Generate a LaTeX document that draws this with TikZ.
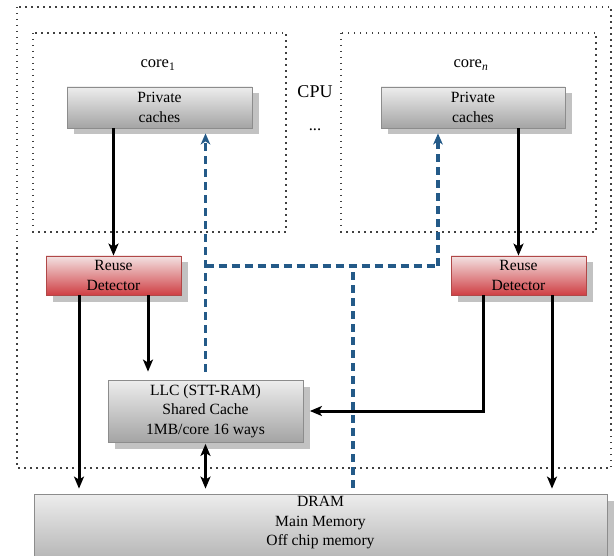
\documentclass[tikz,border=0pt]{standalone}
\usepackage{fontspec}
\setmainfont{Liberation Serif}
\usetikzlibrary{arrows.meta,shadows}
\definecolor{gtop}{HTML}{EDEDED}
\definecolor{gbot}{HTML}{A4A4A4}
\definecolor{gborder}{HTML}{8C8C8C}
\definecolor{rtop}{HTML}{F3E2E2}
\definecolor{rbot}{HTML}{CF3F44}
\definecolor{rborder}{HTML}{B04848}
\definecolor{shadowgray}{HTML}{C2C2C2}
\definecolor{dblue}{HTML}{245A88}
\definecolor{dotgray}{HTML}{404040}
\tikzset{
  boxtext/.style={font=\fontsize{15.6}{19.5}\selectfont, align=center, inner sep=0pt},
  graybox/.style={boxtext, draw=gborder, line width=0.8pt, shading=axis, top color=gtop, bottom color=gbot,
     drop shadow={shadow xshift=6.5pt, shadow yshift=-6.5pt, fill=shadowgray, opacity=1}},
  redbox/.style={boxtext, draw=rborder, line width=0.8pt, shading=axis, top color=rtop, bottom color=rbot,
     drop shadow={shadow xshift=6.5pt, shadow yshift=-6.5pt, fill=shadowgray, opacity=1}},
  dotbox/.style={draw=dotgray, line width=1.5pt, dash pattern=on 1.5pt off 4.5pt},
  arr/.style={line width=3pt, -{Stealth[length=12pt,width=10pt,inset=3pt]}},
  darr/.style={line width=3pt, {Stealth[length=12pt,width=10pt,inset=3pt]}-{Stealth[length=12pt,width=10pt,inset=3pt]}},
  dsh/.style={draw=dblue, line width=3.2pt, dash pattern=on 8pt off 5pt},
  dsharr/.style={dsh, -{Stealth[length=11pt,width=9.5pt,inset=3pt]}, color=dblue},
  lbl/.style={font=\fontsize{16.5}{19}\selectfont, inner sep=0pt}
}
\begin{document}
\begin{tikzpicture}[x=1pt,y=-1pt]
\useasboundingbox (0,0) rectangle (616,556);
% dotted regions
\draw[dotbox] (17,7) rectangle (611,468);
\draw[dotbox] (33,33) rectangle (286,232);
\draw[dotbox] (341,33) rectangle (596,232);
% labels
\node[lbl, anchor=base] (c1lab) at (158,68) {core\textsubscript{1}};
\node[lbl, anchor=base] (cnlab) at (471,68) {core\textsubscript{\textit{n}}};
\node[lbl, anchor=base, font=\fontsize{18}{20}\selectfont] (cpu) at (315,98) {CPU};
\node[lbl, anchor=base] (dots) at (315,131) {...};
% boxes
\node[graybox, minimum width=185pt, minimum height=41pt] (pc1) at (159.5,107.5) {Private\\caches};
\node[graybox, minimum width=184pt, minimum height=41pt] (pcn) at (473,107.5) {Private\\caches};
\node[redbox, minimum width=135pt, minimum height=39pt] (rd1) at (113.5,275.5) {Reuse\\Detector};
\node[redbox, minimum width=135pt, minimum height=39pt] (rdn) at (518.5,275.5) {Reuse\\Detector};
\node[graybox, minimum width=195pt, minimum height=62pt] (llc) at (205.5,411) {LLC (STT-RAM)\\Shared Cache\\1MB/core 16 ways};
\node[graybox, minimum width=573pt, minimum height=86pt] (dram) at (320.5,537) {};
\node[boxtext, anchor=center] (dramtxt) at (320.5,523) {DRAM\\Main Memory\\Off chip memory};
% coordinates for connector columns
\coordinate (a1) at (79,0);
\coordinate (b1) at (148,0);
\coordinate (a2) at (483,0);
\coordinate (b2) at (552,0);
\coordinate (j1) at (205.5,266);
\coordinate (j2) at (353,266);
\coordinate (j3) at (438,266);
% black arrows
\draw[arr] (pc1.south -| rd1.north) -- (rd1.north);
\draw[arr] (pcn.south -| rdn.north) -- (rdn.north);
\draw[arr, shorten >=5pt] (rd1.south -| a1) -- (dram.north -| a1);
\draw[arr, shorten >=8pt] (rd1.south -| b1) -- (llc.north -| b1);
\draw[arr, shorten >=6.5pt] (rdn.south -| a2) |- (llc.east);
\draw[arr, shorten >=5pt] (rdn.south -| b2) -- (dram.north -| b2);
\draw[darr, shorten <=1.5pt, shorten >=5pt] (llc.south) -- (dram.north -| llc.south);
% dashed blue connections
\draw[dsharr, shorten <=8pt, shorten >=5pt] (llc.north) -- (pc1.south -| llc.north);
\draw[dsh] (j1) -- (j3);
\draw[dsh, shorten <=6pt] (dram.north -| j2) -- (j2);
\draw[dsharr, shorten >=5pt] (j3) -- (pcn.south -| j3);
\end{tikzpicture}
\end{document}
